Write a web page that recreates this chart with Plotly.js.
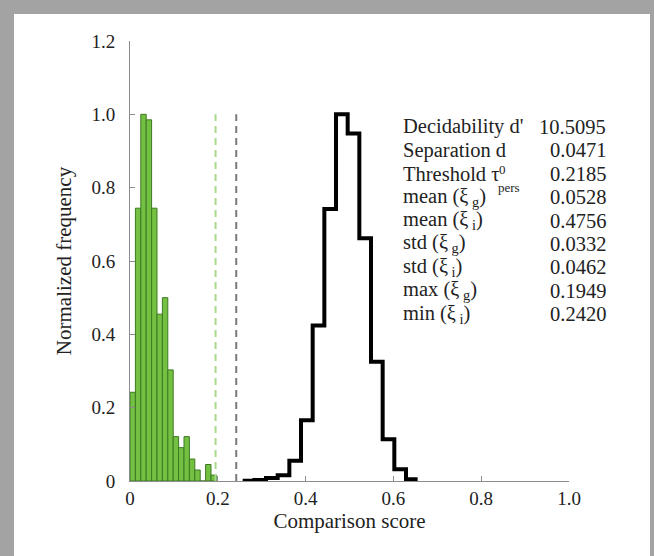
<!DOCTYPE html>
<html>
<head>
<meta charset="utf-8">
<script src="https://cdn.plot.ly/plotly-3.0.1.min.js"></script>
<style>
  html, body { margin: 0; padding: 0; }
  #frame { position: absolute; left: 0; top: 0; width: 654px; height: 556px; background: #a3a3a3; overflow: hidden; }
  #chart { position: absolute; left: 14px; top: 14px; width: 636px; height: 542px; background: #fff; }
</style>
</head>
<body>
<div id="frame"><div id="chart"></div></div>
<script>
// Genuine (green) histogram: 16 bins starting at 0
const genuineBinStart = 0;
const genuineBinWidth = 0.0123;
const genuineFreq = [0.242, 0.744, 1.0, 0.985, 0.744, 0.455, 0.5, 0.303, 0.121, 0.091, 0.121, 0.06, 0.03, 0.0, 0.045, 0.016];

// Impostor (black step) histogram
const impostorBinStart = 0.2567;
const impostorBinWidth = 0.02657;
const impostorFreq = [0.001, 0.003, 0.008, 0.016, 0.055, 0.166, 0.424, 0.742, 1.0, 0.948, 0.662, 0.325, 0.114, 0.032, 0.005];

// Threshold-like markers
const maxGenuine = 0.1949;
const minImpostor = 0.2420;

// Statistics table
const statLabels = ["Decidability d'", "Separation d", "Threshold τ", "mean (ξ<sub> g</sub>)", "mean (ξ<sub> i</sub>)", "std (ξ<sub> g</sub>)", "std (ξ<sub> i</sub>)", "max (ξ<sub> g</sub>)", "min (ξ<sub> i</sub>)"];
const statValues = ["10.5095", "0.0471", "0.2185", "0.0528", "0.4756", "0.0332", "0.0462", "0.1949", "0.2420"];

const xTicks = [0, 0.2, 0.4, 0.6, 0.8, 1.0];
const xTickText = ["0", "0.2", "0.4", "0.6", "0.8", "1.0"];
const yTicks = [0, 0.2, 0.4, 0.6, 0.8, 1.0, 1.2];
const yTickText = ["0", "0.2", "0.4", "0.6", "0.8", "1.0", "1.2"];

const serif = "Liberation Serif, Times New Roman, serif";
const textColor = "#222";

const gx = genuineFreq.map((_, i) => genuineBinStart + (i + 0.5) * genuineBinWidth);
const ix = impostorFreq.map((_, i) => impostorBinStart + i * impostorBinWidth);
ix.push(impostorBinStart + impostorFreq.length * impostorBinWidth);
const iy = impostorFreq.concat([impostorFreq[impostorFreq.length - 1]]);

const traces = [
  {
    type: "bar", x: gx, y: genuineFreq, width: genuineBinWidth,
    marker: { color: "#74c042", line: { color: "#3d7a22", width: 1 } },
    hoverinfo: "x+y", showlegend: false
  },
  {
    type: "scatter", mode: "lines", x: ix, y: iy,
    line: { shape: "hv", color: "#000", width: 4 },
    showlegend: false
  }
];

const annotations = [];
statLabels.forEach((t, i) => {
  const ypx = 127 + i * 23.4;
  const yp = (481 - ypx) / 440;
  annotations.push({ xref: "paper", yref: "paper", x: 0.617, y: yp, xanchor: "left", yanchor: "middle",
    text: t, showarrow: false, font: { family: serif, size: 20.5, color: textColor } });
  annotations.push({ xref: "paper", yref: "paper", x: 1.0888, y: yp, xanchor: "right", yanchor: "middle",
    text: statValues[i], showarrow: false, font: { family: serif, size: 20.5, color: textColor } });
});
annotations.push({ xref: "paper", yref: "paper", x: 0.836, y: (481 - 169) / 440, xanchor: "left", yanchor: "middle",
  text: "0", showarrow: false, font: { family: serif, size: 13, color: textColor } });
annotations.push({ xref: "paper", yref: "paper", x: 0.833, y: (481 - 187) / 440, xanchor: "left", yanchor: "middle",
  text: "pers", showarrow: false, font: { family: serif, size: 13, color: textColor } });

const layout = {
  width: 636, height: 542,
  margin: { l: 116, r: 81, t: 27, b: 75 },
  paper_bgcolor: "#fff", plot_bgcolor: "#fff",
  bargap: 0,
  font: { family: serif, color: textColor, size: 19 },
  xaxis: {
    range: [0, 1], tickvals: xTicks, ticktext: xTickText,
    ticks: "inside", ticklen: 5, tickcolor: "#8c8c8c", tickwidth: 1,
    showline: true, linecolor: "#8c8c8c", linewidth: 1,
    showgrid: false, zeroline: false, ticklabelstandoff: 0,
    tickfont: { family: serif, size: 19, color: textColor },
    title: { text: "Comparison score", font: { family: serif, size: 21, color: textColor }, standoff: 4 }
  },
  yaxis: {
    range: [0, 1.2], tickvals: yTicks, ticktext: yTickText,
    ticks: "inside", ticklen: 5, tickcolor: "#8c8c8c", tickwidth: 1,
    showline: true, linecolor: "#8c8c8c", linewidth: 1,
    showgrid: false, zeroline: false, ticklabelstandoff: 10,
    tickfont: { family: serif, size: 19, color: textColor },
    title: { text: "Normalized frequency", font: { family: serif, size: 21, color: textColor }, standoff: 14 }
  },
  shapes: [
    { type: "line", xref: "x", yref: "y", x0: maxGenuine, x1: maxGenuine, y0: 0, y1: 1.0,
      line: { color: "#a9d98c", width: 2, dash: "7px,5px" } },
    { type: "line", xref: "x", yref: "y", x0: minImpostor, x1: minImpostor, y0: 0, y1: 1.0,
      line: { color: "#7a7a7a", width: 2, dash: "7px,5px" } }
  ],
  annotations: annotations
};

Plotly.newPlot("chart", traces, layout, { displayModeBar: false, staticPlot: true });
</script>
</body>
</html>
